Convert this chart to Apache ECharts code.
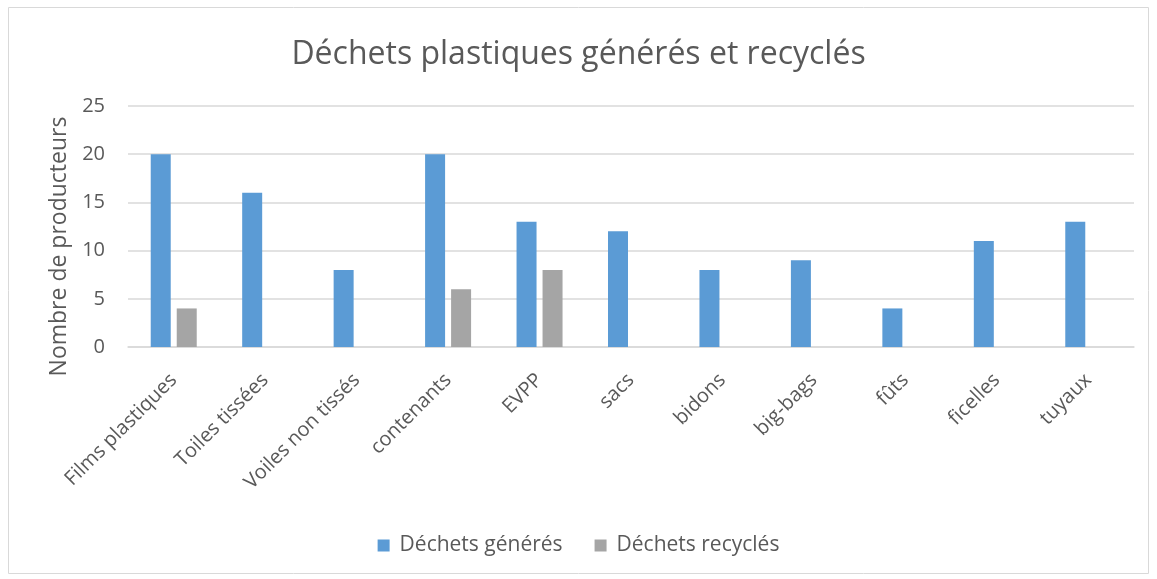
<!DOCTYPE html>
<html>
<head>
<meta charset="utf-8">
<script src="https://cdn.jsdelivr.net/npm/echarts@6/dist/echarts.min.js"></script>
<style>html,body{margin:0;padding:0;background:#fff}#c{width:1157px;height:579px}</style>
</head>
<body>
<div id="c"></div>
<script>
const categories = ['Films plastiques','Toiles tissées','Voiles non tissés','contenants','EVPP','sacs','bidons','big-bags','fûts','ficelles','tuyaux'];
const generes = [20,16,8,20,13,12,8,9,4,11,13];
const recycles = [4,0,0,6,8,0,0,0,0,0,0];
const seriesNames = ['Déchets générés','Déchets recyclés'];
const yTicks = {min:0,max:25,interval:5};

const FONT = '"Open Sans", "Noto Sans", sans-serif';
const TXT = '#595959';
const chart = echarts.init(document.getElementById('c'));
chart.setOption({
  animation:false,
  textStyle:{fontFamily:FONT},
  graphic:[{type:'rect',shape:{x:8.5,y:7.5,width:1140,height:566},style:{fill:'none',stroke:'#D9D9D9',lineWidth:1},silent:true}],
  title:{text:'Déchets plastiques générés et recyclés',left:'center',top:34,
    textStyle:{fontFamily:FONT,fontSize:32,fontWeight:'normal',color:TXT}},
  legend:{bottom:18,left:'center',itemWidth:12,itemHeight:12,itemGap:32,icon:'rect',
    textStyle:{fontFamily:FONT,fontSize:21,color:TXT,padding:[0,0,0,5]}},
  grid:{left:128,right:23,top:106,bottom:232,containLabel:false},
  xAxis:{type:'category',data:categories,
    axisLine:{lineStyle:{color:'#D9D9D9',width:1.5}},axisTick:{show:false},
    axisLabel:{rotate:45,interval:0,fontSize:20,color:TXT,margin:30,fontFamily:FONT}},
  yAxis:{type:'value',min:yTicks.min,max:yTicks.max,interval:yTicks.interval,
    name:'Nombre de producteurs',nameLocation:'middle',nameGap:56,
    nameTextStyle:{fontSize:23,color:TXT,fontFamily:FONT,padding:[0,40,0,0]},
    axisLine:{show:false},axisTick:{show:false},
    axisLabel:{fontSize:20,color:TXT,margin:23,fontFamily:FONT},
    splitLine:{lineStyle:{color:'#D9D9D9',width:1.5}}},
  series:[
    {name:seriesNames[0],type:'bar',data:generes,barWidth:20,barGap:'30%',itemStyle:{color:'#5B9BD5'}},
    {name:seriesNames[1],type:'bar',data:recycles,barWidth:20,barGap:'30%',itemStyle:{color:'#A5A5A5'}}
  ]
});
</script>
</body>
</html>
